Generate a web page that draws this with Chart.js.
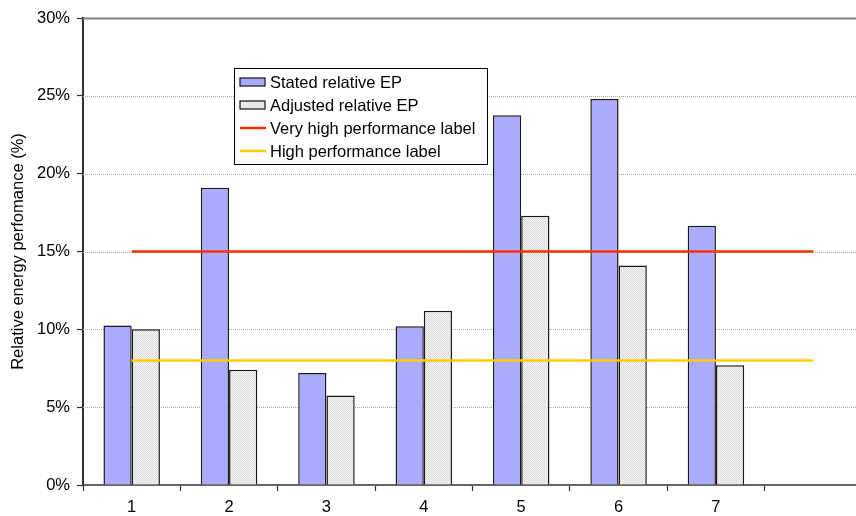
<!DOCTYPE html>
<html>
<head>
<meta charset="utf-8">
<script src="https://cdn.jsdelivr.net/npm/chart.js@4/dist/chart.umd.min.js"></script>
<style>
  html, body { margin: 0; padding: 0; background: #fff; overflow: hidden; }
  #wrap { width: 862px; height: 516px; }
</style>
</head>
<body>
<div id="wrap"><canvas id="c" width="862" height="516"></canvas></div>
<script>
// Categories (the eighth slot is left empty so the label lines run past the last pair)
const categories = ['1', '2', '3', '4', '5', '6', '7', ''];

// Relative energy performance, in percent
const statedEP   = [10.25, 19.1, 7.2, 10.2, 23.75, 24.8, 16.65, null];
const adjustedEP = [10.0, 7.4, 5.75, 11.2, 17.3, 14.1, 7.7, null];

// Label thresholds, in percent
const veryHighLabel = [15, 15, 15, 15, 15, 15, 15, 15];
const highLabel     = [8, 8, 8, 8, 8, 8, 8, 8];

const yTicks = [0, 5, 10, 15, 20, 25, 30];

const FONT = 'Liberation Sans, Arial, sans-serif';
const FS = 16.5;

// Fine stipple fill for the adjusted bars
function stipple() {
  const p = document.createElement('canvas');
  p.width = 2; p.height = 2;
  const g = p.getContext('2d');
  g.fillStyle = '#f6f6f6'; g.fillRect(0, 0, 2, 2);
  g.fillStyle = '#d9d9d9'; g.fillRect(0, 0, 1, 1); g.fillRect(1, 1, 1, 1);
  return document.getElementById('c').getContext('2d').createPattern(p, 'repeat');
}

// Horizontal grid: dotted at each tick, solid along the top of the plot
const gridPlugin = {
  id: 'grid',
  beforeDatasetsDraw(chart) {
    const { ctx, chartArea: a, scales: { y } } = chart;
    ctx.save();
    yTicks.forEach(v => {
      if (v === 0) return;
      const py = Math.round(y.getPixelForValue(v)) + 0.5;
      ctx.beginPath();
      if (v === yTicks[yTicks.length - 1]) {
        ctx.setLineDash([]);
        ctx.strokeStyle = '#808080';
        ctx.lineWidth = 2;
      } else {
        ctx.setLineDash([1, 1]);
        ctx.strokeStyle = '#a8a8a8';
        ctx.lineWidth = 1;
      }
      ctx.moveTo(a.left, py);
      ctx.lineTo(a.right, py);
      ctx.stroke();
    });
    ctx.restore();
  }
};

// Boxed legend inside the plot
const legendPlugin = {
  id: 'boxLegend',
  afterDraw(chart) {
    const { ctx } = chart;
    const x0 = 234, y0 = 68, w = 253, h = 96, row = 23;
    ctx.save();
    ctx.fillStyle = '#fff';
    ctx.fillRect(x0, y0, w, h);
    ctx.strokeStyle = '#000';
    ctx.lineWidth = 1;
    ctx.strokeRect(x0 + 0.5, y0 + 0.5, w, h);
    ctx.font = FS + 'px ' + FONT;
    ctx.textBaseline = 'middle';
    chart.data.datasets.forEach((ds, i) => {
      const cy = y0 + 14 + i * row;
      if (ds.type === 'line') {
        ctx.strokeStyle = ds.borderColor;
        ctx.lineWidth = 2.5;
        ctx.beginPath();
        ctx.moveTo(x0 + 6, cy);
        ctx.lineTo(x0 + 32, cy);
        ctx.stroke();
      } else {
        ctx.fillStyle = ds.backgroundColor;
        ctx.fillRect(x0 + 6, cy - 4, 25, 8);
        ctx.strokeStyle = '#111';
        ctx.lineWidth = 1.2;
        ctx.strokeRect(x0 + 6, cy - 4, 25, 8);
      }
      ctx.fillStyle = '#000';
      ctx.fillText(ds.label, x0 + 36, cy + 1);
    });
    ctx.restore();
  }
};

new Chart(document.getElementById('c'), {
  data: {
    labels: categories,
    datasets: [
      {
        type: 'bar', label: 'Stated relative EP', data: statedEP,
        backgroundColor: '#aaaaff', borderColor: '#1a1a1a', borderWidth: 1.5,
        categoryPercentage: 0.58, barPercentage: 1, order: 2
      },
      {
        type: 'bar', label: 'Adjusted relative EP', data: adjustedEP,
        backgroundColor: stipple(), borderColor: '#1a1a1a', borderWidth: 1.5,
        categoryPercentage: 0.58, barPercentage: 1, order: 2
      },
      {
        type: 'line', label: 'Very high performance label', data: veryHighLabel,
        borderColor: '#ff3000', borderWidth: 2.5, pointRadius: 0, fill: false, order: 1
      },
      {
        type: 'line', label: 'High performance label', data: highLabel,
        borderColor: '#ffcc00', borderWidth: 2.5, pointRadius: 0, fill: false, order: 1
      }
    ]
  },
  options: {
    responsive: false,
    animation: false,
    layout: { padding: { top: 18, right: 0, bottom: 0, left: 0 } },
    plugins: { legend: { display: false }, tooltip: { enabled: false } },
    scales: {
      x: {
        afterFit(s) { s.height = 31; },
        grid: { display: true, drawOnChartArea: false, offset: true, tickLength: 6, tickColor: '#333', tickWidth: 1.2 },
        border: { display: true, color: '#666', width: 2 },
        ticks: { color: '#000', font: { family: FONT, size: FS }, padding: 7, autoSkip: false, maxRotation: 0 }
      },
      y: {
        min: 0, max: 30,
        afterFit(s) { s.width = 83; },
        afterBuildTicks(s) { s.ticks = yTicks.map(v => ({ value: v })); },
        grid: { display: true, drawOnChartArea: false, tickLength: 6, tickColor: '#333', tickWidth: 1.2 },
        border: { display: true, color: '#333', width: 2 },
        ticks: { color: '#000', font: { family: FONT, size: FS }, padding: 7, callback: v => v + '%' },
        title: {
          display: true, text: 'Relative energy perfomance (%)',
          color: '#000', font: { family: FONT, size: FS }, padding: { top: 9, bottom: 0 }
        }
      }
    }
  },
  plugins: [gridPlugin, legendPlugin]
});
</script>
</body>
</html>
